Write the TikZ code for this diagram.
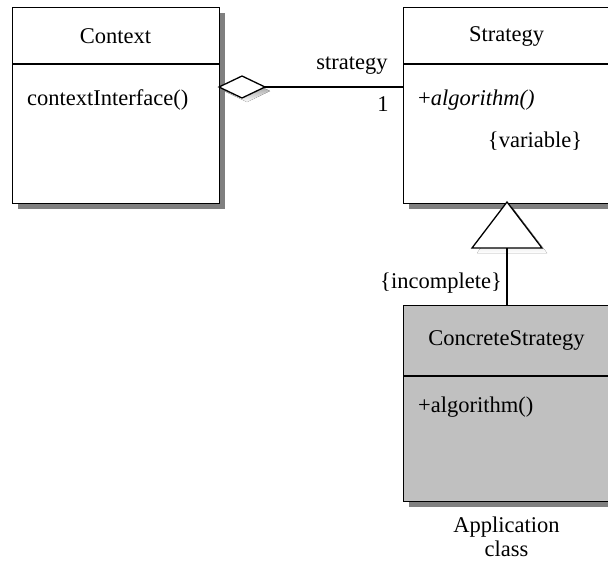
\documentclass[tikz,border=0pt]{standalone}
\usepackage{fontspec}
\setmainfont{Liberation Serif}
\usetikzlibrary{shapes.geometric,shadows}
\definecolor{shade}{RGB}{128,128,128}
\definecolor{concrete}{RGB}{192,192,192}
\begin{document}
\begin{tikzpicture}[x=1pt,y=-1pt,
  every node/.style={font=\fontsize{22.5}{25}\selectfont, inner sep=0pt},
  classbox/.style={draw, line width=1.3pt, fill=white, minimum width=207pt, minimum height=196pt,
    anchor=north west,
    drop shadow={shadow xshift=5pt, shadow yshift=-5pt, fill=shade, opacity=1}},
  edge/.style={line width=1.3pt},
  lbl/.style={font=\fontsize{22.5}{25}\selectfont}]
\clip (0,0) rectangle (608,563);
\fill[white] (0,0) rectangle (608,563);

% class boxes
\node[classbox] (ctx) at (12,7) {};
\node[classbox] (strat) at (403,7) {};
\node[classbox, fill=concrete] (conc) at (403,305) {};

% compartment dividers
\draw[edge] (ctx.north west) ++(0,57) -- ++(207,0);
\draw[edge] (strat.north west) ++(0,57) -- ++(207,0);
\draw[edge] (conc.north west) ++(0,71) -- ++(207,0);

% class texts
\node[lbl] (ctxname) at (115.5,36) {Context};
\node[lbl, anchor=west] (ctxop) at (27,100) {contextInterface()};
\node[lbl] (stratname) at (506.5,36) {Strategy};
\node[lbl, anchor=west] (stratop) at (418,100) {+\textit{algorithm()}};
\node[lbl] (stratvar) at (535,141) {\{variable\}};
\node[lbl] (concname) at (506.5,340) {ConcreteStrategy};
\node[lbl, anchor=west] (concop) at (418,407) {+algorithm()};
\node[lbl, align=center] (applabel) at (506.5,537) {Application\\[-1pt]class};

% aggregation diamond with its shadow
\fill[shade] (224,91) -- (247,80) -- (270,91) -- (247,102) -- cycle;
\node[diamond, draw, line width=1.3pt, fill=white, minimum width=46pt, minimum height=22pt,
  inner sep=0pt, outer sep=0pt] (agg) at (242,87) {};
\draw[edge] (agg.east) -- (strat.west |- agg.east);
\node[lbl] (role) at (352,66) {strategy};
\node[lbl] (mult) at (383,104) {1};

% generalization triangle with its shadow
\coordinate (apex) at (507,202);
\coordinate (genbase) at (507,248);
\fill[shade] (512,207) -- (547,253) -- (477,253) -- cycle;
\draw[edge, fill=white, line join=miter] (apex) -- (542,248) -- (472,248) -- cycle;
\draw[edge] (genbase) -- (conc.north -| genbase);
\node[lbl, anchor=east] (constraint) at (502,283) {\{incomplete\}};
\end{tikzpicture}
\end{document}
